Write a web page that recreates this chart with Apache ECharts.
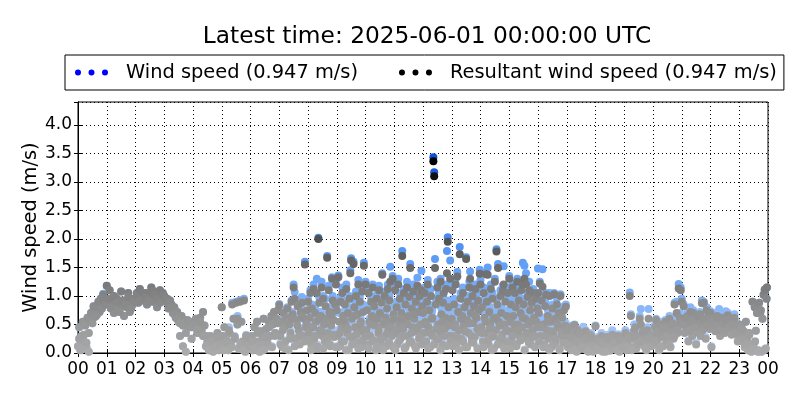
<!DOCTYPE html>
<html>
<head>
<meta charset="utf-8">
<script src="https://cdn.jsdelivr.net/npm/echarts@6/dist/echarts.min.js"></script>
<style>html,body{margin:0;padding:0;background:#fff}#c{width:800px;height:400px}</style>
</head>
<body>
<div id="c"></div>
<script>
const titleText = 'Latest time: 2025-06-01 00:00:00 UTC';
const seriesNames = ['Wind speed (0.947 m/s)', 'Resultant wind speed (0.947 m/s)'];
const hourLabels = ['00','01','02','03','04','05','06','07','08','09','10','11','12','13','14','15','16','17','18','19','20','21','22','23','00'];

// one sub-array per hour, points evenly spread through that hour
const resultantSpeed = [
 [0.12,0.45,0.05,0.30,0.55,0.20,0.48,0.10,0.62,0.35,0.58,0.70,0.52,0.75,0.63,0.80,0.68,0.85,0.72,0.95,0.78,1.02,0.88,0.92],
 [1.18,0.85,1.10,0.78,0.92,0.70,0.88,0.95,0.75,0.90,1.08,0.82,0.65,0.88,0.80,1.05,0.72,0.90,0.85,0.95],
 [0.95,1.05,0.88,1.12,1.00,0.92,0.98,1.05,0.85,1.02,0.95,1.15,0.90,1.08,1.00,0.80,1.02,1.10,0.95,1.05],
 [1.00,0.90,0.95,0.78,0.92,0.85,0.70,0.80,0.62,0.72,0.55,0.30,0.65,0.12,0.50,0.02,0.58,0.45,0.55,0.25],
 [0.55,0.45,0.60,0.35,0.50,0.62,0.40,0.72,0.48,0.30,0.20,0.08,0.30,0.15,0.02,0.25,0.10,0.35,0.05,0.18],
 [0.80,0.30,0.45,0.10,0.22,0.05,0.35,0.15,0.85,0.60,0.25,0.88,0.50,0.08,0.90,0.55,0.20,0.92,0.02,0.30,0.12,0.25],
 [0.10,0.30,0.05,0.45,0.20,0.55,0.12,0.02,0.38,0.25,0.60,0.08,0.42,0.18,0.55,0.30,0.65,0.50,0.72,0.35,0.60,0.75],
 [0.84,0.30,0.55,0.10,0.70,0.45,0.20,0.62,0.78,0.05,0.50,0.35,0.90,0.68,1.15,0.95,0.25,0.58,0.82,0.40,0.15,0.72,0.88,0.30,0.60,1.55,0.45,0.75],
 [0.90,0.35,0.62,1.05,0.15,0.78,0.45,1.12,0.25,0.70,0.55,1.05,0.08,2.00,0.88,0.40,0.65,1.15,0.30,0.95,0.50,0.20,0.82,0.60,1.67,0.35,1.10,0.72,0.12,0.48,1.30,0.92,0.58,0.28,0.85,1.20],
 [0.75,0.30,1.33,0.55,0.12,0.90,0.42,1.05,0.65,0.20,0.85,0.50,1.12,0.35,0.70,0.05,0.95,1.40,1.62,0.60,0.28,1.56,0.80,0.45,1.00,0.18,0.68,1.20,0.38,0.90,0.55,0.10,1.08,0.72,1.53,0.30],
 [1.20,0.40,0.75,0.15,1.05,0.55,0.30,0.90,0.65,1.15,0.22,0.82,0.48,0.05,0.95,0.60,0.35,1.10,0.70,0.18,0.88,1.37,0.50,0.28,1.00,0.62,0.12,0.78,1.12,0.42,0.92,1.25,0.55,0.30,1.30,0.68],
 [0.60,1.10,0.35,0.80,0.15,1.20,0.50,0.95,0.25,0.70,1.70,0.42,1.05,0.08,0.85,0.55,1.15,0.30,0.65,0.98,1.49,0.20,0.78,0.45,1.08,0.60,0.12,0.90,0.38,1.18,0.72,0.25,1.00,0.50,1.10,0.82],
 [0.70,0.35,1.05,0.55,0.20,0.90,1.20,0.45,0.75,0.10,1.00,0.60,0.30,3.36,3.10,1.49,0.85,0.25,1.15,0.50,0.95,0.38,1.25,0.68,0.15,0.88,1.05,0.42,0.62,1.12,1.40,1.95,0.80,0.30,1.30,0.55],
 [0.60,1.10,0.30,0.85,0.50,1.20,0.15,1.34,0.72,0.40,1.73,0.95,0.25,0.65,1.05,0.48,0.80,0.10,1.65,0.58,0.90,0.35,1.15,1.30,0.70,0.20,1.00,0.52,0.82,0.28,1.12,0.62,0.42,0.92,0.75,1.39],
 [1.20,0.45,0.80,0.20,1.05,0.62,0.35,1.38,0.90,1.37,0.15,0.72,0.50,1.12,0.28,0.95,0.60,0.08,1.25,0.40,1.78,0.85,1.49,0.55,0.22,1.00,0.70,0.32,1.10,1.20,0.50,0.90,0.15,0.65,1.05,0.38],
 [1.30,0.55,0.85,0.20,1.15,0.65,0.40,1.05,0.80,0.12,1.25,0.50,0.92,0.30,0.70,1.10,0.45,1.20,0.85,1.30,0.60,1.20,0.25,0.98,0.50,1.10,0.75,0.15,0.88,0.40,1.05,0.62,0.30,0.95,0.55,0.78],
 [1.05,0.70,1.22,0.30,0.92,1.16,0.50,0.15,0.82,1.02,0.40,0.65,0.25,1.00,0.55,0.10,0.78,0.35,1.03,0.60,0.20,0.85,0.45,0.70,0.05,1.00,0.38,0.62,0.28,0.75,0.48,0.81],
 [0.30,0.10,0.45,0.20,0.05,0.35,0.15,0.49,0.25,0.02,0.40,0.12,0.30,0.18,0.08,0.35,0.22,0.38,0.05,0.28,0.15,0.32,0.10,0.25,0.02,0.20],
 [0.47,0.10,0.25,0.05,0.18,0.30,0.02,0.15,0.22,0.08,0.28,0.12,0.04,0.20,0.32,0.10,0.25,0.06,0.15,0.30,0.02,0.20,0.12,0.28],
 [0.20,0.35,0.05,0.15,0.30,1.00,0.65,0.10,0.25,0.40,0.45,0.08,0.30,0.18,0.60,0.50,0.22,0.35,0.12,0.28,0.05,0.40,0.60,0.20,0.32,0.15],
 [0.30,0.15,0.45,0.58,0.22,0.38,0.05,0.50,0.28,0.42,0.12,0.35,0.55,0.20,0.45,0.30,0.60,0.10,0.40,0.52,0.25,0.85,0.48,0.70,0.35,1.13,0.62,1.10],
 [0.90,0.50,0.82,0.35,0.60,0.45,0.65,0.20,0.55,0.72,0.40,0.30,0.70,0.50,0.62,0.15,0.45,0.58,0.35,0.68,0.52,0.87,0.40,0.88,0.60,0.25,0.75,0.50,0.70,0.42],
 [0.70,0.10,0.55,0.45,0.60,0.38,0.50,0.65,0.42,0.58,0.30,0.52,0.62,0.45,0.55,0.35,0.60,0.48,0.66,0.40,0.50,0.58,0.32,0.45,0.55,0.62,0.38,0.50,0.42,0.30],
 [0.50,0.30,0.45,0.20,0.38,0.10,0.55,0.25,0.05,0.35,0.15,0.02,0.90,0.10,0.80,0.39,0.70,0.05,0.88,0.70,0.02,0.60,1.02,1.11,0.08,1.15]
];
const windSpeed = [
 [0.12,0.45,0.05,0.30,0.55,0.20,0.48,0.10,0.62,0.35,0.58,0.70,0.52,0.75,0.63,0.80,0.68,0.85,0.72,0.95,0.78,1.04,0.88,0.92],
 [1.18,0.85,1.10,0.78,0.92,0.70,0.88,0.95,0.75,0.90,1.08,0.82,0.65,0.88,0.80,1.05,0.72,0.90,0.85,0.95],
 [0.95,1.05,0.88,1.12,1.00,0.92,0.98,1.05,0.85,1.02,0.95,1.15,0.90,1.08,1.00,0.80,1.02,1.10,0.95,1.05],
 [1.00,0.90,0.95,0.78,0.92,0.85,0.70,0.80,0.62,0.72,0.55,0.30,0.65,0.12,0.50,0.02,0.58,0.45,0.55,0.25],
 [0.55,0.45,0.60,0.35,0.50,0.62,0.40,0.72,0.48,0.30,0.20,0.08,0.30,0.15,0.02,0.25,0.10,0.35,0.05,0.18],
 [0.80,0.30,0.45,0.10,0.22,0.05,0.35,0.15,0.88,0.60,0.25,0.90,0.50,0.08,0.93,0.55,0.20,0.95,0.02,0.30,0.12,0.25],
 [0.10,0.30,0.05,0.45,0.20,0.55,0.12,0.02,0.38,0.25,0.60,0.08,0.42,0.18,0.55,0.30,0.65,0.50,0.72,0.35,0.60,0.75],
 [0.86,0.32,0.58,0.12,0.75,0.47,0.22,0.65,0.80,0.06,0.55,0.38,0.92,0.72,1.20,1.07,0.27,0.62,0.85,0.45,0.18,0.80,0.98,0.35,0.62,1.60,0.50,0.90],
 [0.95,0.40,0.75,1.10,0.18,0.85,0.60,1.20,0.30,0.78,0.70,1.30,0.10,2.02,0.98,0.55,0.72,1.25,0.38,1.00,0.62,0.25,0.95,0.68,1.70,0.45,1.18,0.80,0.15,0.60,1.33,1.00,0.70,0.32,0.92,1.28],
 [0.85,0.35,1.36,0.70,0.15,0.98,0.55,1.15,0.72,0.25,0.92,0.60,1.20,0.45,0.82,0.08,1.00,1.45,1.66,0.72,0.30,1.60,0.92,0.50,1.08,0.22,0.80,1.28,0.45,0.98,0.60,0.12,1.15,0.85,1.58,0.35],
 [1.25,0.50,0.82,0.18,1.15,0.60,0.40,0.98,0.80,1.20,0.25,0.92,0.55,0.08,1.02,0.72,0.40,1.18,0.75,0.20,0.95,1.40,0.62,0.30,1.08,0.70,0.15,0.90,1.20,0.50,1.00,1.51,0.62,0.35,1.35,0.80],
 [0.70,1.18,0.45,0.90,0.18,1.30,0.62,1.05,0.30,0.82,1.79,0.50,1.12,0.10,0.95,0.65,1.25,0.35,0.78,1.08,1.56,0.22,0.85,0.55,1.20,0.72,0.15,1.00,0.45,1.32,0.80,0.30,1.12,0.62,1.44,0.90],
 [0.80,0.40,1.15,0.65,0.25,1.00,1.28,0.55,0.85,0.12,1.12,0.70,0.35,3.43,3.17,1.65,0.95,0.30,1.25,0.60,1.05,0.45,1.30,0.78,0.20,0.98,1.18,0.50,0.72,1.20,1.79,2.03,0.92,0.38,1.62,0.62],
 [0.72,1.22,0.38,0.95,0.62,1.30,0.18,1.42,0.80,0.50,1.86,1.05,0.30,0.78,1.15,0.60,0.92,0.12,1.68,0.70,1.00,0.40,1.25,1.43,0.80,0.25,1.12,0.60,0.92,0.32,1.20,0.70,0.50,1.05,0.85,1.46],
 [1.28,0.55,0.92,0.25,1.15,0.70,0.40,1.42,1.00,1.50,0.18,0.82,0.62,1.20,0.32,1.05,0.72,0.10,1.30,0.50,1.82,0.95,1.56,0.65,0.25,1.10,0.80,0.40,1.18,1.52,0.60,1.00,0.20,0.75,1.15,0.45],
 [1.35,0.65,0.95,0.25,1.22,0.75,0.45,1.15,0.92,0.15,1.30,0.60,1.00,0.35,0.80,1.20,0.55,1.58,0.95,1.53,0.70,1.40,0.30,1.05,0.60,1.25,0.85,0.18,0.98,0.50,1.12,0.72,0.35,1.02,0.62,0.90],
 [1.48,0.80,1.25,0.40,1.02,1.47,0.62,0.20,0.90,1.05,0.50,0.75,0.30,1.05,0.65,0.12,0.85,0.45,1.05,0.70,0.25,0.95,0.55,0.80,0.08,1.03,0.45,0.72,0.32,0.82,0.55,0.85],
 [0.35,0.12,0.48,0.25,0.06,0.40,0.18,0.50,0.30,0.03,0.42,0.15,0.35,0.22,0.10,0.46,0.25,0.40,0.08,0.32,0.18,0.35,0.12,0.28,0.04,0.22],
 [0.48,0.12,0.28,0.06,0.20,0.35,0.03,0.18,0.25,0.10,0.32,0.14,0.06,0.22,0.40,0.12,0.28,0.08,0.18,0.33,0.04,0.24,0.15,0.30],
 [0.22,0.40,0.06,0.18,0.35,1.06,0.68,0.12,0.30,0.50,0.50,0.10,0.35,0.20,0.65,0.77,0.25,0.40,0.15,0.32,0.08,0.45,0.77,0.25,0.35,0.18],
 [0.32,0.18,0.50,0.60,0.25,0.42,0.06,0.55,0.30,0.48,0.14,0.38,0.58,0.22,0.50,0.35,0.65,0.12,0.45,0.60,0.28,0.88,0.55,0.90,0.40,1.21,0.70,1.15],
 [0.95,0.55,0.85,0.40,0.65,0.50,0.70,0.22,0.60,0.80,0.45,0.32,0.75,0.55,0.68,0.18,0.50,0.62,0.40,0.72,0.58,0.92,0.45,0.90,0.65,0.28,0.80,0.55,0.73,0.48],
 [0.73,0.12,0.60,0.50,0.70,0.42,0.55,0.70,0.48,0.77,0.35,0.58,0.68,0.50,0.60,0.40,0.73,0.52,0.70,0.45,0.55,0.62,0.35,0.50,0.60,0.68,0.42,0.55,0.45,0.33],
 [0.50,0.30,0.45,0.20,0.38,0.10,0.55,0.25,0.05,0.35,0.15,0.02,0.90,0.10,0.80,0.39,0.70,0.05,0.88,0.70,0.02,0.60,1.02,1.11,0.08,1.15]
];
// second pass of readings per hour, placed between the samples above
const resultantSpeedB = [
 [0.25,0.08,0.32,0.18,0.02,0.70,0.82,0.65,0.90,0.78,0.95,0.85],
 [0.95,0.80,1.00,0.88,0.72,0.92,0.85,0.98,0.78,0.90],
 [1.00,0.92,1.05,0.97,0.90,1.08,1.02,0.95,0.88,1.00],
 [0.95,0.88,0.80,0.68,0.60,0.52,0.48,0.35,0.55,0.45],
 [0.50,0.42,0.55,0.30,0.12,0.05,0.20,0.10,0.28,0.15],
 [0.05,0.18,0.40,0.10,0.28,0.60,0.15,0.05,0.30,0.12],
 [0.20,0.08,0.35,0.15,0.05,0.28,0.45,0.10,0.30,0.52],
 [0.15,0.40,0.08,0.55,0.25,0.60,0.12,0.48,0.30,0.65,0.20,0.50],
 [0.22,0.05,0.45,0.30,0.12,0.60,0.38,0.08,0.52,0.25,0.15,0.68,0.32,0.10],
 [0.10,0.35,0.20,0.58,0.05,0.42,0.28,0.15,0.65,0.32,0.08,0.50,0.22,0.40],
 [0.30,0.08,0.50,0.20,0.62,0.12,0.40,0.25,0.05,0.55,0.35,0.18,0.45,0.10],
 [0.05,0.40,0.22,0.60,0.30,0.10,0.50,0.18,0.35,0.68,0.08,0.45,0.28,0.15],
 [0.20,0.50,0.08,0.35,0.62,0.15,0.42,0.25,0.05,0.55,0.30,0.12,0.48,0.22],
 [0.12,0.45,0.28,0.05,0.60,0.20,0.38,0.10,0.52,0.30,0.18,0.65,0.08,0.40],
 [0.35,0.10,0.55,0.22,0.42,0.05,0.30,0.62,0.15,0.48,0.25,0.08,0.40,0.20],
 [0.08,0.30,0.50,0.15,0.40,0.22,0.62,0.05,0.35,0.18,0.55,0.28,0.10,0.45],
 [0.20,0.45,0.10,0.30,0.55,0.05,0.38,0.15,0.25,0.50,0.08,0.32,0.18,0.40],
 [0.15,0.28,0.05,0.20,0.35,0.10,0.25,0.02,0.30,0.12],
 [0.08,0.20,0.15,0.02,0.25,0.10,0.18,0.05,0.22,0.12],
 [0.10,0.25,0.05,0.30,0.15,0.20,0.38,0.08,0.25,0.12],
 [0.20,0.35,0.10,0.45,0.28,0.15,0.50,0.30,0.40,0.55],
 [0.50,0.62,0.38,0.55,0.45,0.65,0.30,0.58,0.48,0.60],
 [0.55,0.48,0.62,0.40,0.52,0.58,0.45,0.50,0.35,0.20],
 [0.42,0.25,0.15,0.32,0.08,0.20,0.02,0.75,0.05,0.95]
];
const windSpeedB = [
 [0.25,0.08,0.32,0.18,0.02,0.70,0.82,0.65,0.90,0.78,0.95,0.85],
 [0.95,0.80,1.00,0.88,0.72,0.92,0.85,0.98,0.78,0.90],
 [1.00,0.92,1.05,0.97,0.90,1.08,1.02,0.95,0.88,1.00],
 [0.95,0.88,0.80,0.68,0.60,0.52,0.48,0.35,0.55,0.45],
 [0.50,0.42,0.55,0.30,0.12,0.05,0.20,0.10,0.28,0.15],
 [0.05,0.20,0.45,0.12,0.30,0.65,0.18,0.06,0.32,0.14],
 [0.22,0.10,0.40,0.18,0.06,0.32,0.50,0.12,0.35,0.58],
 [0.18,0.48,0.10,0.62,0.30,0.68,0.15,0.55,0.35,0.72,0.22,0.58],
 [0.28,0.06,0.55,0.35,0.15,0.72,0.45,0.10,0.62,0.30,0.18,0.78,0.40,0.12],
 [0.12,0.42,0.25,0.70,0.06,0.52,0.32,0.18,0.78,0.40,0.10,0.60,0.28,0.50],
 [0.38,0.10,0.60,0.25,0.75,0.15,0.50,0.30,0.06,0.68,0.42,0.22,0.55,0.12],
 [0.06,0.50,0.28,0.72,0.38,0.12,0.62,0.22,0.42,0.80,0.10,0.55,0.35,0.18],
 [0.25,0.62,0.10,0.42,0.75,0.18,0.52,0.30,0.06,0.68,0.38,0.15,0.60,0.28],
 [0.15,0.55,0.35,0.06,0.72,0.25,0.45,0.12,0.65,0.38,0.22,0.78,0.10,0.50],
 [0.42,0.12,0.68,0.28,0.52,0.06,0.38,0.75,0.18,0.60,0.30,0.10,0.50,0.25],
 [0.10,0.38,0.62,0.18,0.50,0.28,0.75,0.06,0.42,0.22,0.68,0.35,0.12,0.55],
 [0.25,0.55,0.12,0.38,0.65,0.06,0.45,0.18,0.30,0.60,0.10,0.40,0.22,0.50],
 [0.18,0.32,0.06,0.25,0.40,0.12,0.30,0.03,0.35,0.15],
 [0.10,0.25,0.18,0.03,0.30,0.12,0.22,0.06,0.26,0.15],
 [0.12,0.30,0.06,0.35,0.18,0.25,0.45,0.10,0.30,0.15],
 [0.22,0.40,0.12,0.50,0.32,0.18,0.55,0.35,0.45,0.60],
 [0.55,0.68,0.42,0.60,0.50,0.70,0.35,0.62,0.52,0.65],
 [0.60,0.52,0.68,0.45,0.58,0.62,0.50,0.55,0.40,0.22],
 [0.42,0.25,0.15,0.32,0.08,0.20,0.02,0.75,0.05,0.95]
];

function toPoints(perHour, offset) {
  const out = [];
  perHour.forEach((vals, h) => {
    vals.forEach((v, i) => out.push([h + (i + offset) / vals.length, v]));
  });
  return out;
}

const FONT = 'DejaVu Sans';
const chart = echarts.init(document.getElementById('c'), null, {renderer: 'canvas'});
const dotsIcon = 'path://M0,3a3,3 0 1,0 6,0a3,3 0 1,0 -6,0M13.5,3a3,3 0 1,0 6,0a3,3 0 1,0 -6,0M27,3a3,3 0 1,0 6,0a3,3 0 1,0 -6,0';
const tickStyle = {show: true, inside: true, length: 4, lineStyle: {color: '#000', width: 1}};

chart.setOption({
  animation: false,
  backgroundColor: '#fff',
  title: {
    text: titleText, left: 422, top: 20, textAlign: 'center',
    textStyle: {fontFamily: FONT, fontSize: 23.3, fontWeight: 'normal', color: '#000'}
  },
  legend: {
    left: 65, top: 55, width: 720,
    padding: [8, 7, 8, 10],
    itemGap: 41, itemWidth: 33, itemHeight: 6,
    borderColor: '#000', borderWidth: 1,
    icon: dotsIcon,
    textStyle: {fontFamily: FONT, fontSize: 19.4, color: '#000', padding: [0, 0, 0, 13]},
    data: [
      {name: seriesNames[0], itemStyle: {color: '#0000ff', opacity: 1}},
      {name: seriesNames[1], itemStyle: {color: '#000000', opacity: 1}}
    ]
  },
  grid: {left: 78, right: 32, top: 102, bottom: 47, show: true, borderColor: '#000', borderWidth: 1},
  visualMap: [
    {type: 'continuous', show: false, seriesIndex: 0, dimension: 1, min: 0, max: 3.4,
     inRange: {color: ['#b8d0fa', '#84b4f8', '#5a9af5', '#3070e8', '#1050d8']}},
    {type: 'continuous', show: false, seriesIndex: 1, dimension: 1, min: 0, max: 3.4,
     inRange: {color: ['#ababab', '#8a8a8a', '#606060', '#303030', '#000000']}}
  ],
  xAxis: [
    {type: 'value', min: 0, max: 24, interval: 1, position: 'bottom',
     axisLine: {show: true, lineStyle: {color: '#000'}},
     axisTick: tickStyle,
     axisLabel: {fontFamily: FONT, fontSize: 17, color: '#000', margin: 8,
       formatter: v => hourLabels[Math.round(v)]},
     splitLine: {show: true, lineStyle: {color: '#000', type: [1, 3], width: 1}}},
    {type: 'value', min: 0, max: 24, interval: 1, position: 'top',
     axisLine: {show: true, lineStyle: {color: '#000'}},
     axisTick: tickStyle, axisLabel: {show: false}, splitLine: {show: false}}
  ],
  yAxis: [
    {type: 'value', min: 0, max: 4.4, interval: 0.5, position: 'left',
     name: 'Wind speed (m/s)', nameLocation: 'middle', nameGap: 38, nameMoveOverlap: false,
     nameTextStyle: {fontFamily: FONT, fontSize: 19.4, color: '#000'},
     axisLine: {show: true, lineStyle: {color: '#000'}},
     axisTick: tickStyle,
     axisLabel: {fontFamily: FONT, fontSize: 17, color: '#000', margin: 6, showMaxLabel: false,
       formatter: v => (v <= 4.0 + 1e-9) ? v.toFixed(1) : ''},
     splitLine: {show: true, lineStyle: {color: '#000', type: [1, 3], width: 1}}},
    {type: 'value', min: 0, max: 4.4, interval: 0.5, position: 'right',
     axisLine: {show: true, lineStyle: {color: '#000'}},
     axisTick: tickStyle, axisLabel: {show: false}, splitLine: {show: false}}
  ],
  series: [
    {name: seriesNames[0], type: 'scatter', symbol: 'circle', symbolSize: 8,
     itemStyle: {opacity: 1}, xAxisIndex: 0, yAxisIndex: 0,
     data: toPoints(windSpeed, 0).concat(toPoints(windSpeedB, 0.5)), z: 2},
    {name: seriesNames[1], type: 'scatter', symbol: 'circle', symbolSize: 8,
     itemStyle: {opacity: 1}, xAxisIndex: 0, yAxisIndex: 0,
     data: toPoints(resultantSpeed, 0).concat(toPoints(resultantSpeedB, 0.5)), z: 3}
  ]
});
</script>
</body>
</html>
